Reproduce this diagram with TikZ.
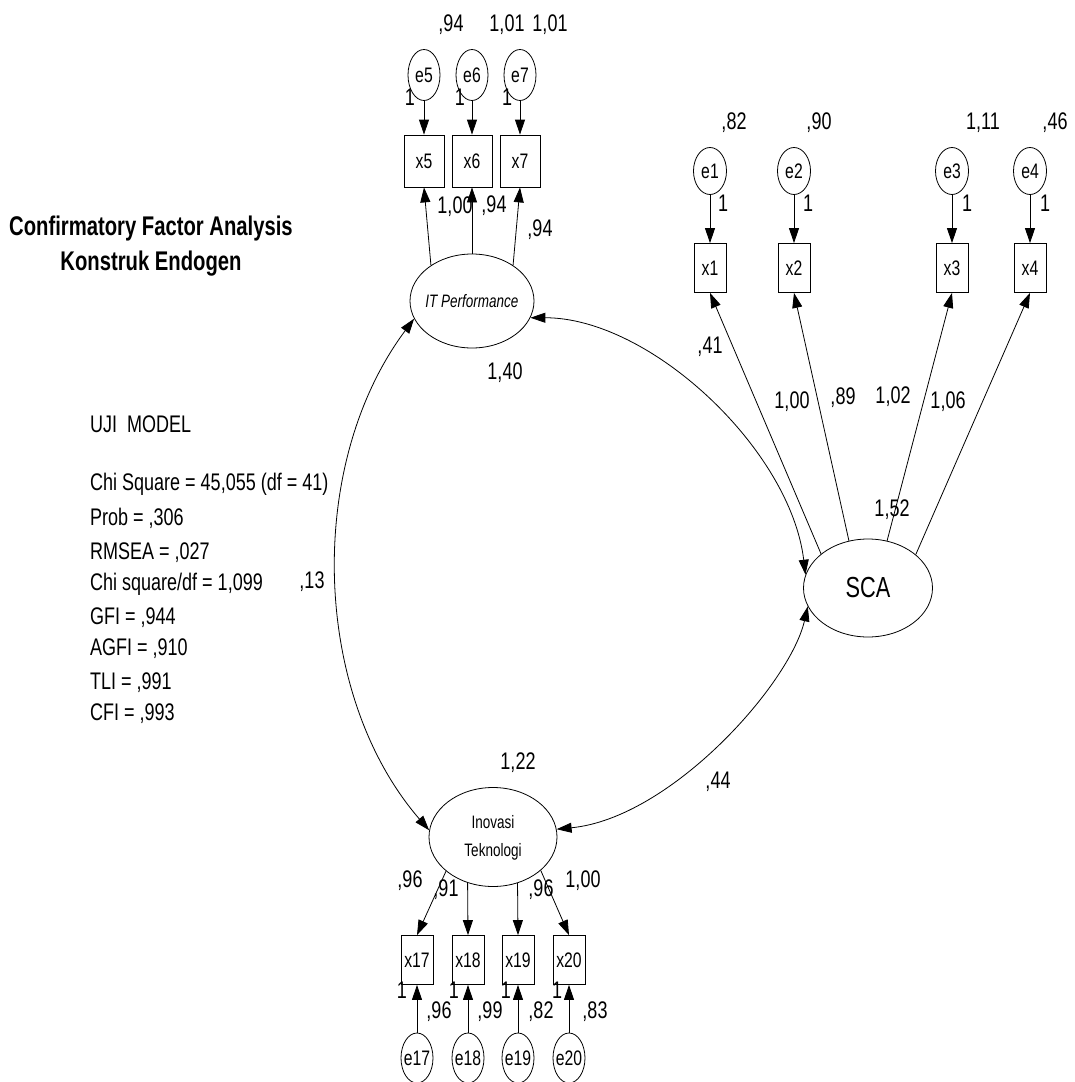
\documentclass[tikz,border=0pt]{standalone}
\usepackage{fontspec}
\setmainfont{Liberation Sans}[FakeStretch=0.75]
\usepackage{tikz}
\usetikzlibrary{shapes.geometric, arrows.meta, positioning}
\tikzset{
	latent/.style={ellipse, draw, line width=0.8pt, inner sep=0pt},
	errterm/.style={ellipse, draw, line width=0.8pt, minimum width=33pt, minimum height=50pt, inner sep=0pt, label={[font=\fontsize{21}{24}\selectfont]center:#1}},
	obsbox/.style={rectangle, draw, line width=0.8pt, minimum width=32pt, minimum height=49pt, inner sep=0pt, font=\fontsize{21}{24}\selectfont},
	num/.style={inner sep=0pt, font=\fontsize{24}{28}\selectfont},
	fitline/.style={anchor=mid west, inner sep=0pt, font=\fontsize{24}{28}\selectfont},
	arrow/.style={line width=0.8pt, -{Triangle[length=15pt, width=10pt]}},
	covarrow/.style={line width=0.8pt, {Triangle[length=15pt, width=10pt]}-{Triangle[length=15pt, width=10pt]}}
}

\begin{document}
\begin{tikzpicture}[x=1pt, y=-1pt]
		\useasboundingbox (0,0) rectangle (1075,1082);
		
		% Judul
		\node[font=\bfseries\fontsize{27}{35}\selectfont, align=center] (title) at (151,246) {Confirmatory Factor Analysis\\Konstruk Endogen};
		
		% Uji model
		\node[fitline] (uji) at (90,430) {UJI\ \ MODEL};
		\node[fitline] (chi) at (90,488) {Chi Square = 45,055 (df = 41)};
		\node[fitline] (prob) at (90,523) {Prob = ,306};
		\node[fitline] (rmsea) at (90,557) {RMSEA = ,027};
		\node[fitline] (cmindf) at (90,588) {Chi square/df = 1,099};
		\node[fitline] (gfi) at (90,622) {GFI = ,944};
		\node[fitline] (agfi) at (90,653) {AGFI = ,910};
		\node[fitline] (tli) at (90,687) {TLI = ,991};
		\node[fitline] (cfi) at (90,718) {CFI = ,993};
		
		% IT Performance
		\node[latent, minimum width=124pt, minimum height=94pt, label={[font=\itshape\fontsize{18}{20}\selectfont]center:IT Performance}] (IT) at (472,301) {};
		\node[obsbox, minimum width=40pt, minimum height=52pt] (x5) at (424,161) {x5};
		\node[obsbox, minimum width=40pt, minimum height=52pt] (x6) at (472,161) {x6};
		\node[obsbox, minimum width=40pt, minimum height=52pt] (x7) at (520,161) {x7};
		\node[errterm=e5, minimum width=32pt, minimum height=51pt] (e5) at (424,75) {};
		\node[errterm=e6, minimum width=32pt, minimum height=51pt] (e6) at (472,75) {};
		\node[errterm=e7, minimum width=32pt, minimum height=51pt] (e7) at (520,75) {};
		\draw[arrow] (e5) -- (x5);
		\draw[arrow] (e6) -- (x6);
		\draw[arrow] (e7) -- (x7);
		\draw[arrow] (IT.139) -- (x5.south);
		\draw[arrow] (IT.90) -- (x6.south);
		\draw[arrow] (IT.41) -- (x7.south);
		\node[num] (v5) at (451,25) {,94};
		\node[num] (v6) at (507,25) {1,01};
		\node[num] (v7) at (550,25) {1,01};
		\node[num] (w5) at (410,97) {1};
		\node[num] (w6) at (460,97) {1};
		\node[num] (w7) at (507,97) {1};
		\node[num] (l5) at (455,207) {1,00};
		\node[num] (l6) at (494,206) {,94};
		\node[num] (l7) at (540,230) {,94};
		\node[num] (varIT) at (505,373) {1,40};
		
		% SCA
		\node[latent, minimum width=129pt, minimum height=98pt, font=\fontsize{29}{32}\selectfont] (SCA) at (868,588) {SCA};
		\node[obsbox] (x1) at (710,268) {x1};
		\node[obsbox] (x2) at (794,268) {x2};
		\node[obsbox] (x3) at (952,268) {x3};
		\node[obsbox] (x4) at (1030,268) {x4};
		\node[errterm=e1, minimum height=47pt] (e1) at (710,171) {};
		\node[errterm=e2, minimum height=47pt] (e2) at (794,171) {};
		\node[errterm=e3, minimum height=47pt] (e3) at (952,171) {};
		\node[errterm=e4, minimum height=47pt] (e4) at (1030,171) {};
		\draw[arrow] (e1) -- (x1);
		\draw[arrow] (e2) -- (x2);
		\draw[arrow] (e3) -- (x3);
		\draw[arrow] (e4) -- (x4);
		\draw[arrow] (SCA.144) -- (x1.south);
		\draw[arrow] (SCA.112) -- (x2.south);
		\draw[arrow] (SCA.68) -- (x3.south);
		\draw[arrow] (SCA.35) -- (x4.south);
		\node[num] (v1) at (734,123) {,82};
		\node[num] (v2) at (819,123) {,90};
		\node[num] (v3) at (983,123) {1,11};
		\node[num] (v4) at (1055,123) {,46};
		\node[num] (w1) at (723,203) {1};
		\node[num] (w2) at (808,203) {1};
		\node[num] (w3) at (967,203) {1};
		\node[num] (w4) at (1045,203) {1};
		\node[num] (l1) at (792,402) {1,00};
		\node[num] (l2) at (843,398) {,89};
		\node[num] (l3) at (893,397) {1,02};
		\node[num] (l4) at (948,402) {1,06};
		\node[num] (varSCA) at (892,510) {1,52};
		
		% Inovasi Teknologi
		\node[latent, minimum width=128pt, minimum height=99pt, font=\fontsize{18}{28}\selectfont] (INO) at (493,837) {\begin{tabular}{@{}c@{}}Inovasi\\Teknologi\end{tabular}};
		\node[obsbox] (x17) at (417,960) {x17};
		\node[obsbox] (x18) at (468,960) {x18};
		\node[obsbox] (x19) at (518,960) {x19};
		\node[obsbox] (x20) at (569,960) {x20};
		\node[errterm=e17, minimum width=32pt] (e17) at (417,1058) {};
		\node[errterm=e18, minimum width=32pt] (e18) at (468,1058) {};
		\node[errterm=e19, minimum width=32pt] (e19) at (518,1058) {};
		\node[errterm=e20, minimum width=32pt] (e20) at (569,1058) {};
		\draw[arrow] (e17) -- (x17);
		\draw[arrow] (e18) -- (x18);
		\draw[arrow] (e19) -- (x19);
		\draw[arrow] (e20) -- (x20);
		\draw[arrow] (INO.-144) -- (x17.north);
		\draw[arrow] (INO.-119) -- (x18.north);
		\draw[arrow] (INO.-62) -- (x19.north);
		\draw[arrow] (INO.-35) -- (x20.north);
		\node[num] (l17) at (410,881) {,96};
		\node[num] (l18) at (446,890) {,91};
		\node[num] (l19) at (541,890) {,96};
		\node[num] (l20) at (583,881) {1,00};
		\node[num] (w17) at (402,990) {1};
		\node[num] (w18) at (454,990) {1};
		\node[num] (w19) at (506,990) {1};
		\node[num] (w20) at (557,990) {1};
		\node[num] (v17) at (439,1012) {,96};
		\node[num] (v18) at (490,1012) {,99};
		\node[num] (v19) at (541,1012) {,82};
		\node[num] (v20) at (595,1012) {,83};
		\node[num] (varINO) at (518,763) {1,22};
		
		% Kovarians
		\draw[covarrow] (IT.-16) .. controls +(120,0) and +(-15,-125) .. (SCA.168);
		\draw[covarrow] (IT.197) .. controls (305,465) and (312,695) .. (INO.174);
		\draw[covarrow] (SCA.197) .. controls +(-18,78) and +(114,-11) .. (INO.7);
		\node[num] (covITSCA) at (710,347) {,41};
		\node[num] (covITINO) at (312,582) {,13};
		\node[num] (covINOSCA) at (718,782) {,44};
	\end{tikzpicture}
\end{document}
